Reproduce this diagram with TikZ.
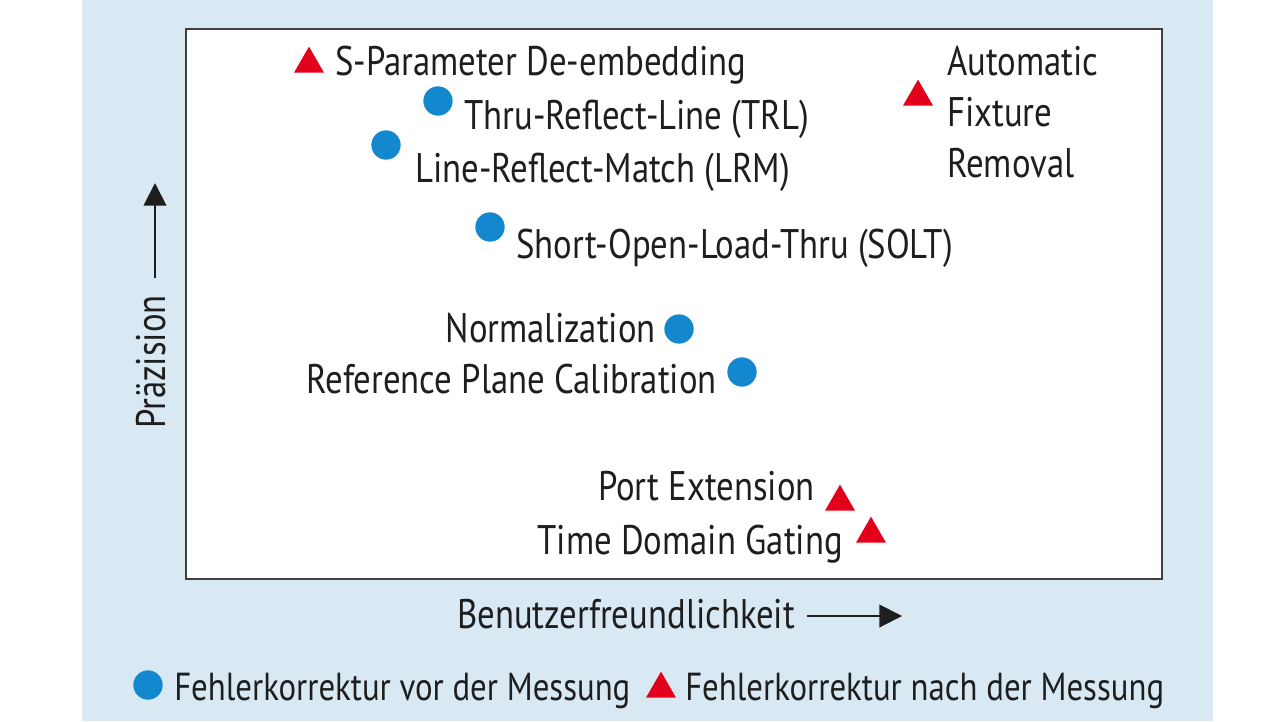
\documentclass[tikz,border=0pt]{standalone}
\usepackage{fontspec}
\setmainfont[FakeStretch=0.84]{PT Sans}
\usetikzlibrary{arrows.meta,shapes.geometric}
\definecolor{bgblue}{RGB}{216,233,244}
\definecolor{dotblue}{RGB}{20,136,207}
\definecolor{trired}{RGB}{226,0,26}
\definecolor{ink}{RGB}{30,30,30}
\tikzset{
  dot/.style={circle,fill=dotblue,inner sep=0pt,minimum size=22pt},
  tri/.style={regular polygon,regular polygon sides=3,fill=trired,inner sep=0pt,minimum size=26pt},
  lbl/.style={inner sep=0pt,text=ink},
  keylbl/.style={lbl,font=\fontsize{29.3}{36}\selectfont},
  axis/.style={line width=1.5pt,draw=ink,-{Triangle[length=17pt,width=17pt]}}
}
\begin{document}
\begin{tikzpicture}[x=0.75pt,y=-0.75pt,font=\fontsize{31}{38}\selectfont]
\useasboundingbox (0,0) rectangle (1280,721);
\fill[bgblue] (82,0) rectangle (1213,721);
\draw[fill=white,draw=ink!85,line width=1.5pt] (186,29) rectangle (1162,579);

\begin{scope}
\coordinate (ptsparam) at (309,64);
\coordinate (pttrl) at (438,101);
\coordinate (ptlrm) at (386,145);
\coordinate (ptsolt) at (490,227);
\coordinate (ptnorm) at (679,329);
\coordinate (ptref) at (742,372);
\coordinate (ptafr) at (918,97);
\coordinate (ptport) at (840,502);
\coordinate (pttdg) at (871,534);

\node[tri] (sparam) at (ptsparam) {};
\node[dot] (trl) at (pttrl) {};
\node[dot] (lrm) at (ptlrm) {};
\node[dot] (solt) at (ptsolt) {};
\node[dot] (norm) at (ptnorm) {};
\node[dot] (refplane) at (ptref) {};
\node[tri] (afr) at (ptafr) {};
\node[tri] (portext) at (ptport) {};
\node[tri] (tdg) at (pttdg) {};

\node[lbl,anchor=base west] (sparamtext) at (335,75) {S-Parameter De-embedding};
\node[lbl,anchor=base west] (trltext) at (464,129) {Thru-Reflect-Line (TRL)};
\node[lbl,anchor=base west] (lrmtext) at (415,182) {Line-Reflect-Match (LRM)};
\node[lbl,anchor=base west] (solttext) at (516,258) {Short-Open-Load-Thru (SOLT)};
\node[lbl,anchor=base east] (normtext) at (656,342) {Normalization};
\node[lbl,anchor=base east] (reftext) at (717,393) {Reference Plane Calibration};
\node[lbl,anchor=base west,align=left] (afrtext) at (947,177) {Automatic\\Fixture\\Removal};
\node[lbl,anchor=base east] (porttext) at (815,500) {Port Extension};
\node[lbl,anchor=base east] (tdgtext) at (843,554) {Time Domain Gating};
\end{scope}

\coordinate (ytail) at (155,278);
\coordinate (yhead) at (155,183);
\draw[axis] (ytail) -- (yhead);
\node[lbl,rotate=90,anchor=base] (ylabel) at (165,362) {Präzision};

\node[lbl,anchor=base west] (xlabel) at (457,628) {Benutzerfreundlichkeit};
\coordinate (xtail) at (807,616);
\coordinate (xhead) at (902,616);
\draw[axis] (xtail) -- (xhead);

\node[dot] (keydot) at (148,685) {};
\node[keylbl,anchor=base west] (keydottext) at (174,700) {Fehlerkorrektur vor der Messung};
\node[tri] (keytri) at (661,689) {};
\node[keylbl,anchor=base west] (keytritext) at (685,700) {Fehlerkorrektur nach der Messung};
\end{tikzpicture}
\end{document}
